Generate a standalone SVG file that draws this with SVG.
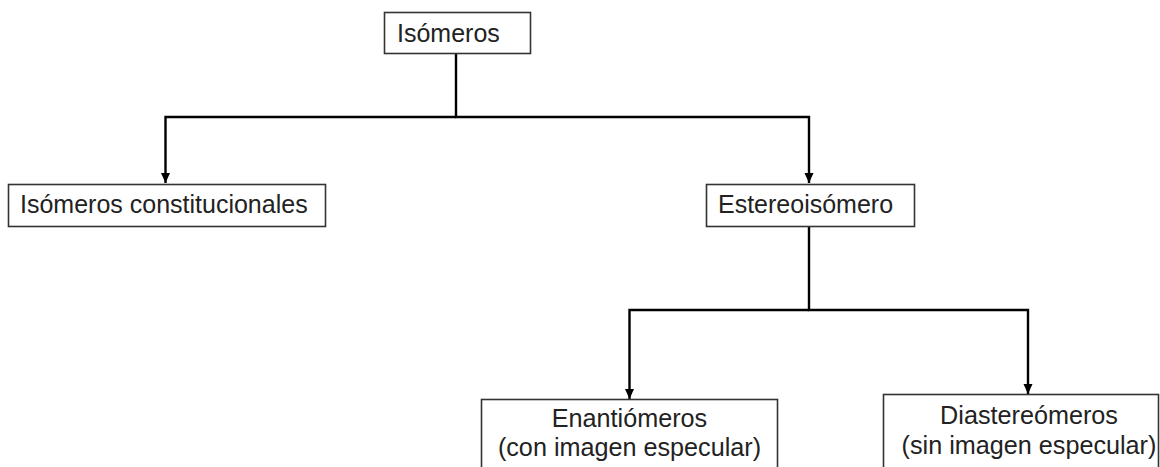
<svg xmlns="http://www.w3.org/2000/svg" width="1160" height="467" viewBox="0 0 1160 467">
  <style>
    .box { fill: #ffffff; stroke: #333333; stroke-width: 1.6; }
    .lbl { font-family: "Liberation Sans", Arial, sans-serif; font-size: 25px; fill: #222222; }
    .lbl2 { font-family: "Liberation Sans", Arial, sans-serif; font-size: 25.2px; fill: #222222; text-anchor: middle; }
    .edge { fill: none; stroke: #000000; stroke-width: 2.4; }
  </style>
  <defs>
    <marker id="arrow" markerUnits="userSpaceOnUse" markerWidth="10" markerHeight="10" viewBox="0 0 10 10" refX="10" refY="5" orient="auto">
      <path d="M0,0.5 L10,5 L0,9.5 Z" fill="#000000"/>
    </marker>
  </defs>
  <rect width="1160" height="467" fill="#ffffff"/>
  <g id="connectors">
    <path class="edge" d="M456,53 V117 H809 V183" marker-end="url(#arrow)"/>
    <path class="edge" d="M456,117 H165.5 V183" marker-end="url(#arrow)"/>
    <path class="edge" d="M809,227 V310 H1028 V394" marker-end="url(#arrow)"/>
    <path class="edge" d="M809,310 H629.5 V399" marker-end="url(#arrow)"/>
  </g>
  <g id="node-isomeros">
    <rect class="box" x="384.5" y="12.5" width="146" height="41"/>
    <text class="lbl" x="397" y="42">Isómeros</text>
  </g>
  <g id="node-constitucionales">
    <rect class="box" x="8.5" y="184.5" width="317" height="42"/>
    <text class="lbl" x="20" y="213">Isómeros constitucionales</text>
  </g>
  <g id="node-estereoisomero">
    <rect class="box" x="706.5" y="184.5" width="208" height="42"/>
    <text class="lbl" x="718" y="213">Estereoisómero</text>
  </g>
  <g id="node-enantiomeros">
    <rect class="box" x="481.5" y="399.5" width="296" height="80"/>
    <text class="lbl2" x="629.5" y="427">Enantiómeros</text>
    <text class="lbl2" x="629.5" y="456">(con imagen especular)</text>
  </g>
  <g id="node-diastereomeros">
    <rect class="box" x="883.5" y="394.5" width="275" height="80"/>
    <text class="lbl2" x="1029" y="424">Diastereómeros</text>
    <text class="lbl2" x="1029" y="454">(sin imagen especular)</text>
  </g>
</svg>
